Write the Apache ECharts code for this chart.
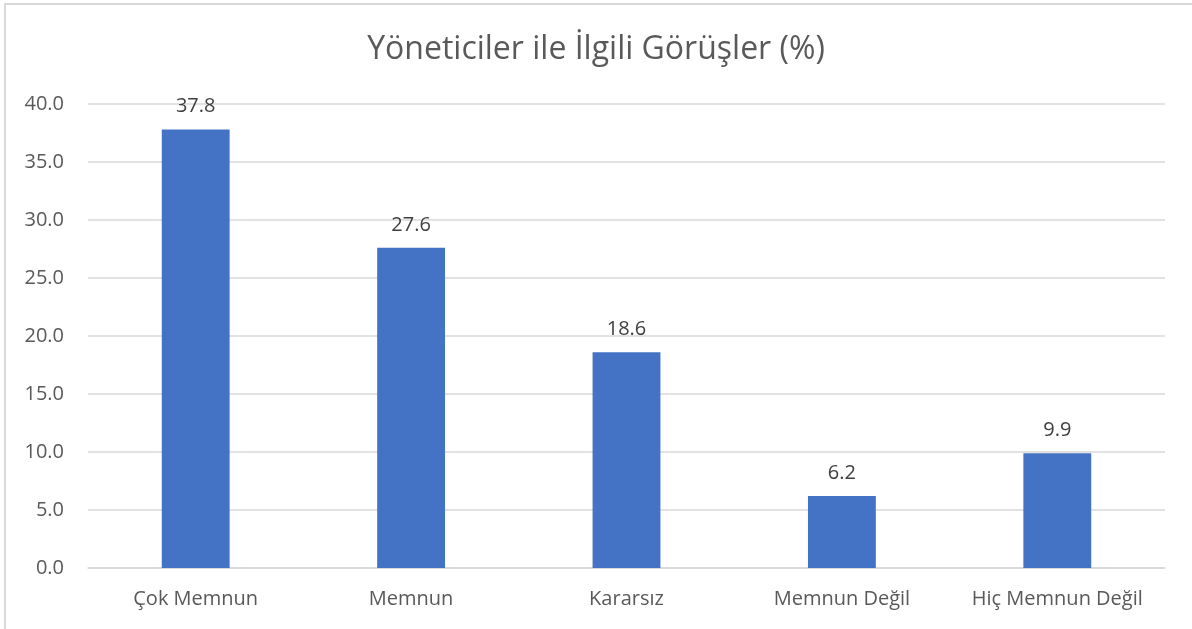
<!DOCTYPE html>
<html><head><meta charset="utf-8">
<script src="https://cdn.jsdelivr.net/npm/echarts@6/dist/echarts.min.js"></script>
<style>html,body{margin:0;padding:0;background:#fff}#c{width:1192px;height:629px}</style>
</head><body><div id="c"></div>
<script>
const categories = ['Çok Memnun', 'Memnun', 'Kararsız', 'Memnun Değil', 'Hiç Memnun Değil'];
const values = [37.8, 27.6, 18.6, 6.2, 9.9];
const titleText = 'Yöneticiler ile İlgili Görüşler (%)';
const FONT = 'Open Sans';
const chart = echarts.init(document.getElementById('c'));
chart.setOption({
  animation: false,
  backgroundColor: '#fff',
  title: { text: titleText, left: 'center', top: 29, textStyle: { fontFamily: FONT, fontSize: 32, fontWeight: 'normal', color: '#595959' } },
  graphic: [{ type: 'rect', shape: { x: 5, y: 4, width: 1300, height: 800 }, style: { fill: null, stroke: '#d9d9d9', lineWidth: 2 }, silent: true }],
  grid: { left: 88, right: 27, top: 104, bottom: 61 },
  xAxis: { type: 'category', data: categories,
    axisLine: { lineStyle: { color: '#d9d9d9', width: 1.5 } }, axisTick: { show: false },
    axisLabel: { interval: 0, hideOverlap: false, fontFamily: FONT, fontSize: 20, color: '#595959', margin: 21 } },
  yAxis: { type: 'value', min: 0, max: 40, interval: 5,
    axisLine: { show: false }, axisTick: { show: false },
    splitLine: { lineStyle: { color: '#d9d9d9', width: 1.5 } },
    axisLabel: { fontFamily: FONT, fontSize: 20, color: '#595959', margin: 24, formatter: v => v.toFixed(1) } },
  series: [{ type: 'bar', data: values, barWidth: '31.5%', itemStyle: { color: '#4472C4' },
    label: { show: true, position: 'top', distance: 13, fontFamily: FONT, fontSize: 20, color: '#404040', formatter: p => p.value.toFixed(1) } }]
});
</script></body></html>
